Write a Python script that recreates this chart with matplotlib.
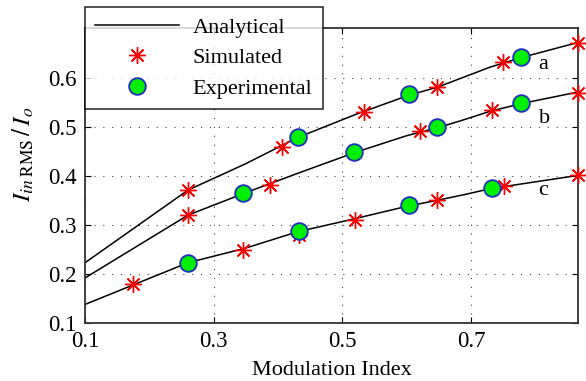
import matplotlib
matplotlib.use("Agg")
import matplotlib.pyplot as plt
import numpy as np

plt.rcParams["font.family"] = ["Liberation Serif", "DejaVu Serif"]
plt.rcParams["mathtext.fontset"] = "stix"

# Analytical curves
ana_x = [0.1, 0.26, 0.35, 0.43, 0.52, 0.6, 0.65, 0.69, 0.73, 0.78, 0.866]
ana_a = [0.223, 0.371, 0.425, 0.478, 0.525, 0.563, 0.582, 0.602, 0.622, 0.642, 0.672]
ana_b = [0.192, 0.320, 0.366, 0.405, 0.448, 0.482, 0.499, 0.515, 0.532, 0.548, 0.571]
ana_c = [0.138, 0.223, 0.253, 0.286, 0.313, 0.338, 0.351, 0.362, 0.374, 0.384, 0.401]

# Simulated points
sim_a_x = [0.26, 0.406, 0.534, 0.647, 0.750, 0.866]
sim_a_y = [0.371, 0.459, 0.531, 0.581, 0.632, 0.672]
sim_b_x = [0.26, 0.388, 0.621, 0.733, 0.866]
sim_b_y = [0.320, 0.382, 0.492, 0.535, 0.570]
sim_c_x = [0.174, 0.346, 0.432, 0.519, 0.647, 0.751, 0.866]
sim_c_y = [0.180, 0.250, 0.280, 0.310, 0.350, 0.380, 0.401]

# Experimental points
exp_a_x = [0.431, 0.604, 0.777]
exp_a_y = [0.480, 0.567, 0.642]
exp_b_x = [0.346, 0.518, 0.647, 0.777]
exp_b_y = [0.365, 0.448, 0.499, 0.548]
exp_c_x = [0.260, 0.432, 0.604, 0.733]
exp_c_y = [0.223, 0.288, 0.341, 0.375]

curve_labels = ["a", "b", "c"]
label_x = [0.805, 0.805, 0.805]
label_y = [0.628, 0.518, 0.371]

fig = plt.figure(figsize=(5.86, 3.81), dpi=100)
ax = fig.add_axes([0.145, 0.152, 0.841, 0.775])

star = (8, 2, 0)
sim_style = dict(ls="none", marker=star, ms=12, mec="red", mew=1.0)
exp_style = dict(ls="none", marker="o", ms=12, mfc="#00ee00", mec="#1f2fc0", mew=1.3)

for yy in (ana_a, ana_b, ana_c):
    ax.plot(ana_x, yy, color="black", lw=1.1, zorder=2)
for sx, sy in ((sim_a_x, sim_a_y), (sim_b_x, sim_b_y), (sim_c_x, sim_c_y)):
    ax.plot(sx, sy, clip_on=False, zorder=3, **sim_style)
for ex, ey in ((exp_a_x, exp_a_y), (exp_b_x, exp_b_y), (exp_c_x, exp_c_y)):
    ax.plot(ex, ey, clip_on=False, zorder=4, **exp_style)

for lab, lx, ly in zip(curve_labels, label_x, label_y):
    ax.text(lx, ly, lab, fontsize=16, ha="left", va="center")

ax.set_xlim(0.1, 0.866)
ax.set_ylim(0.1, 0.702)
ax.set_xticks([0.1, 0.3, 0.5, 0.7])
ax.set_yticks([0.1, 0.2, 0.3, 0.4, 0.5, 0.6])
ax.tick_params(direction="in", labelsize=16.5, length=4, top=True, right=True)
ax.tick_params(axis="x", pad=6)
ax.tick_params(axis="y", pad=6)
ax.grid(True, ls=(0, (1, 7)), color="#444444", lw=0.8)
for s in ax.spines.values():
    s.set_linewidth(1.3)
    s.set_color("#333333")

ax.set_xlabel("Modulation Index", fontsize=16, labelpad=6)
ax.set_ylabel(r"$I_{in\;\mathrm{RMS}}\,/\,I_o$", fontsize=18)
ax.yaxis.set_label_coords(-0.1, 0.57)

# Legend proxies
h1, = ax.plot([], [], color="black", lw=1.1)
h2, = ax.plot([], [], **sim_style)
h3, = ax.plot([], [], **exp_style)
leg = fig.legend([h1, h2, h3], ["Analytical", "Simulated", "Experimental"],
                 loc="upper left", bbox_to_anchor=(85 / 586, 1 - 7 / 381),
                 fontsize=16, frameon=True, fancybox=False, edgecolor="black",
                 handlelength=3.8, borderpad=0.45, labelspacing=0.45,
                 handletextpad=0.6, borderaxespad=0)
leg.get_frame().set_linewidth(1.2)
leg.set_zorder(10)

fig.savefig("out.png", dpi=100)
